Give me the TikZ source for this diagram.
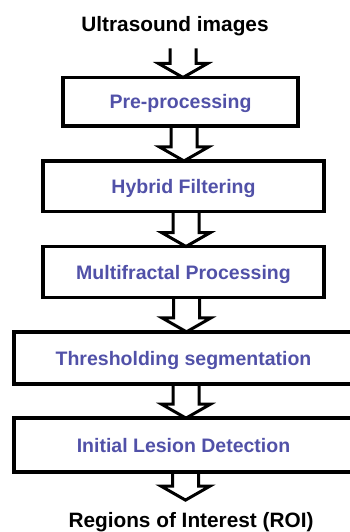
\documentclass[tikz,border=0pt]{standalone}
\usepackage{fontspec}
\setmainfont{Liberation Sans}
\usetikzlibrary{calc}
\definecolor{stepblue}{HTML}{5151A8}

% hollow block arrow: from #1 down to #2, centred on x=#3
\newcommand{\blockdown}[3]{%
  \draw[hollow] let \p1=(#1), \p2=(#2) in
    (#3pt-13pt,\y1) -- (#3pt-13pt,\y2+14pt) -- (#3pt-24.5pt,\y2+14pt) -- (#3pt,\y2)
    -- (#3pt+24.5pt,\y2+14pt) -- (#3pt+13pt,\y2+14pt) -- (#3pt+13pt,\y1);}

\begin{document}
\begin{tikzpicture}[
  x=1pt, y=-1pt,
  stepbox/.style={draw=black, line width=3.4pt, outer sep=0pt,
                  font=\fontsize{19.5}{23}\selectfont\bfseries, text=stepblue,
                  text height=14pt, text depth=0pt, align=center},
  terminal/.style={font=\fontsize{20.8}{25}\selectfont\bfseries, text=black,
                   text height=15pt, text depth=4.5pt, inner ysep=12pt, inner xsep=0pt},
  hollow/.style={draw=black, line width=3pt, line join=miter},
]
\useasboundingbox (0,0) rectangle (349,532);

%% ---- Input ----
\node[terminal, anchor=base] (us) at (175,31.7) {Ultrasound images};

%% ---- Processing steps ----
\node[stepbox, minimum width=235pt, minimum height=48.5pt] (pre) at (180.5,101.75) {Pre-processing};
\node[stepbox, minimum width=281pt, minimum height=50.7pt] (hyb) at (183.5,186.3) {Hybrid Filtering};
\node[stepbox, minimum width=281pt, minimum height=51pt]   (mfp) at (183.5,272) {Multifractal Processing};
\node[stepbox, minimum width=339pt, minimum height=52.3pt] (thr) at (183.5,358) {Thresholding segmentation};
\node[stepbox, minimum width=339pt, minimum height=53.7pt] (ild) at (183.5,445) {Initial Lesion Detection};

%% ---- Output ----
\node[terminal, anchor=base] (roi) at (191,527.3) {Regions of Interest (ROI)};

%% ---- Block arrows ----
\blockdown{us.south}{pre.north}{183}
\blockdown{pre.south}{hyb.north}{184}
\blockdown{hyb.south}{mfp.north}{186}
\blockdown{mfp.south}{thr.north}{186.5}
\blockdown{thr.south}{ild.north}{186}
\blockdown{ild.south}{roi.north}{185.5}

\end{tikzpicture}
\end{document}
